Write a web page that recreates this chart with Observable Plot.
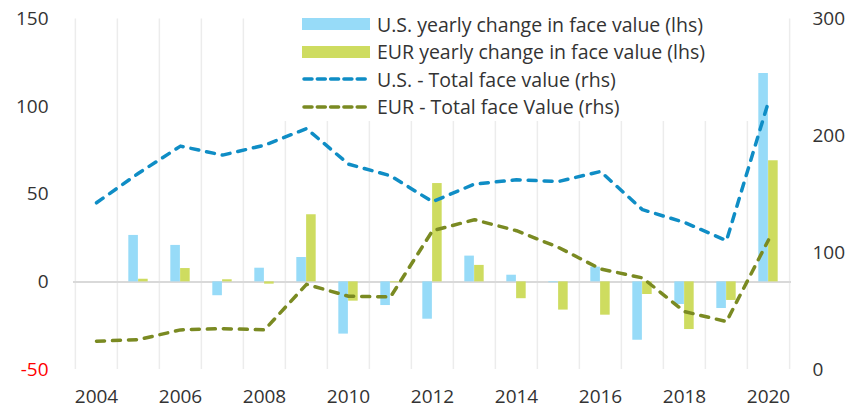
<!DOCTYPE html>
<html>
<head>
<meta charset="utf-8">
<script src="https://cdn.jsdelivr.net/npm/d3@7"></script>
<script src="https://cdn.jsdelivr.net/npm/@observablehq/plot@0.6"></script>
<style>
  html, body { margin: 0; padding: 0; background: #fff; }
  #wrap { position: relative; width: 854px; height: 412px; font-family: "Open Sans", Lato, sans-serif; }
  #legend { position: absolute; left: 283px; top: 0; width: 475px; height: 121px; background: #fff; }
  .row { position: absolute; left: 19px; height: 24px; display: flex; align-items: center; font-size: 19.5px; color: #333; white-space: nowrap; }
  .sw { width: 68px; height: 12px; margin-right: 7px; }
</style>
</head>
<body>
<div id="wrap"></div>
<script>
const years = [2004,2005,2006,2007,2008,2009,2010,2011,2012,2013,2014,2015,2016,2017,2018,2019,2020];
const usChange  = [null, 26.5, 20.8, -7.9, 7.8, 13.9, -29.8, -13.5, -21.3, 14.7, 3.8, -0.5, 8.4, -33.3, -12.9, -15.2, 118.9];
const eurChange = [null, 1.5, 7.6, 1.2, -1.3, 38.3, -11.0, -0.5, 56.1, 9.4, -9.6, -16.1, -19.0, -7.2, -27.2, -10.6, 69.1];
const usTotal   = [142.7, 168, 191.2, 183.5, 192, 206.2, 175.8, 165.8, 143.6, 158.7, 162.4, 160.9, 169.5, 136.8, 125.9, 110.3, 229.3];
const eurTotal  = [24.2, 25.6, 33.9, 35.0, 33.9, 72.9, 62.7, 62.1, 118.8, 128.2, 118.8, 104.5, 86.0, 78.4, 49.6, 41.0, 110.9];
const lhsTicks = [-50, 0, 50, 100, 150];
const rhsTicks = [0, 100, 200, 300];
const xTickYears = [2004, 2006, 2008, 2010, 2012, 2014, 2016, 2018, 2020];
const seriesNames = [
  "U.S. yearly change in face value (lhs)",
  "EUR yearly change in face value (lhs)",
  "U.S. - Total face value (rhs)",
  "EUR - Total face Value (rhs)"
];
const colors = ["#97dbf8", "#cedc60", "#0f8dc5", "#7a8a22"];

// map rhs (0..300) onto lhs (-50..150)
const lhsMin = -50, lhsMax = 150, rhsMin = 0, rhsMax = 300;
const toL = v => lhsMin + (v - rhsMin) * (lhsMax - lhsMin) / (rhsMax - rhsMin);
const toR = v => rhsMin + (v - lhsMin) * (rhsMax - rhsMin) / (lhsMax - lhsMin);

const bars = [];
years.forEach((y, i) => {
  if (usChange[i] != null) bars.push({year: y, s: 0, v: usChange[i]});
  if (eurChange[i] != null) bars.push({year: y, s: 1, v: eurChange[i]});
});
const usLine = years.map((y, i) => ({year: y, v: toL(usTotal[i])}));
const eurLine = years.map((y, i) => ({year: y, v: toL(eurTotal[i])}));

const W = 854, H = 412, mL = 73, mR = 63, mT = 18.5, mB = 43;
const bw = (W - mL - mR) / years.length;
const barW = 9.8;
const inset = (bw - barW) / 2;

const txt = "#333";
const font = "'Open Sans', Lato, sans-serif";
const chart = Plot.plot({
  width: W, height: H,
  marginLeft: mL, marginRight: mR, marginTop: mT, marginBottom: mB,
  style: {fontFamily: font, fontSize: "19px", color: txt, background: "#fff"},
  x: {type: "band", domain: years, padding: 0, axis: null},
  y: {domain: [lhsMin, lhsMax], axis: null},
  marks: [
    Plot.ruleX(years, {x: d => d, dx: -bw / 2, stroke: "#ececec", strokeWidth: 1.5}),
    Plot.ruleX([years[years.length - 1]], {x: d => d, dx: bw / 2, stroke: "#ececec", strokeWidth: 1.5}),
    Plot.ruleY([0], {stroke: "#d9d9d9", strokeWidth: 2}),
    Plot.barY(bars.filter(d => d.s === 0), {x: "year", y: "v", fill: colors[0], insetLeft: inset, insetRight: inset, dx: -barW / 2}),
    Plot.barY(bars.filter(d => d.s === 1), {x: "year", y: "v", fill: colors[1], insetLeft: inset, insetRight: inset, dx: barW / 2}),
    Plot.line(usLine, {x: "year", y: "v", stroke: colors[2], strokeWidth: 3.5, strokeDasharray: "8,8", strokeLinecap: "round", strokeLinejoin: "round"}),
    Plot.line(eurLine, {x: "year", y: "v", stroke: colors[3], strokeWidth: 3.5, strokeDasharray: "8,8", strokeLinecap: "round", strokeLinejoin: "round"}),
    Plot.axisX({ticks: xTickYears, tickSize: 0, tickPadding: 20, fontSize: 19, fill: txt, label: null, tickFormat: d => String(d)}),
    Plot.axisY({anchor: "left", ticks: lhsTicks, tickSize: 0, tickPadding: 25, fontSize: 19, label: null,
      fill: d => d < 0 ? "#ff0000" : txt, tickFormat: d => d < 0 ? "-" + Math.abs(d) : String(d)}),
    Plot.axisY({anchor: "right", ticks: rhsTicks.map(toL), tickSize: 0, tickPadding: 21, fontSize: 19, fill: txt, label: null,
      tickFormat: d => String(Math.round(toR(d)))})
  ]
});

const wrap = document.getElementById("wrap");
wrap.appendChild(chart);

const legend = document.createElement("div");
legend.id = "legend";
const rowY = [12, 39.7, 67, 94.7];
seriesNames.forEach((name, i) => {
  const row = document.createElement("div");
  row.className = "row";
  row.style.top = rowY[i] + "px";
  let sw;
  if (i < 2) {
    sw = `<div class="sw" style="background:${colors[i]}"></div>`;
  } else {
    sw = `<svg width="68" height="12" style="margin-right:7px"><line x1="2" x2="66" y1="6" y2="6" stroke="${colors[i]}" stroke-width="3.5" stroke-linecap="round" stroke-dasharray="8,5.3"/></svg>`;
  }
  row.innerHTML = sw + `<span>${name}</span>`;
  legend.appendChild(row);
});
wrap.appendChild(legend);
</script>
</body>
</html>
